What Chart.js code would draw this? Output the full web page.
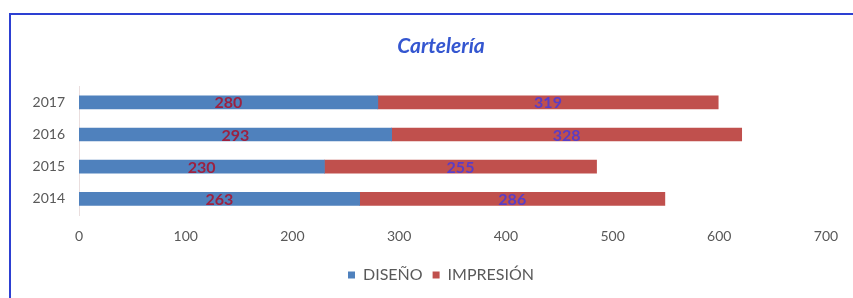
<!DOCTYPE html>
<html>
<head>
<meta charset="utf-8">
<script src="https://cdn.jsdelivr.net/npm/chart.js@4"></script>
<style>
  html, body { margin: 0; padding: 0; background: #fff; overflow: hidden; width: 853px; height: 298px; }
  #wrap {
    position: absolute; left: 9px; top: 13px;
    width: 880px; height: 300px;
    border-top: 2px solid #2d40d2; border-left: 2px solid #2d40d2;
  }
  canvas { position: absolute; left: 0; top: 0; }
</style>
</head>
<body>
<div id="wrap"><canvas id="chart" width="860" height="283"></canvas></div>
<script>
const years = ['2014', '2015', '2016', '2017'];
const diseno = [263, 230, 293, 280];
const impresion = [286, 255, 328, 319];
const xTicks = [0, 100, 200, 300, 400, 500, 600, 700];

// numbers drawn in the middle of each bar segment
const barLabels = {
    id: 'barLabels',
    afterDatasetsDraw(chart) {
        const ctx = chart.ctx;
        ctx.save();
        ctx.font = 'bold 16px Lato';
        ctx.textAlign = 'center';
        ctx.textBaseline = 'middle';
        chart.data.datasets.forEach((ds, i) => {
            const meta = chart.getDatasetMeta(i);
            ctx.fillStyle = ds.labelColor;
            meta.data.forEach((bar, j) => {
                const p = bar.getCenterPoint();
                ctx.fillText(ds.data[j], p.x, p.y + 1);
            });
        });
        ctx.restore();
    }
};

const ctx = document.getElementById('chart');

new Chart(ctx, {
    type: 'bar',
    data: {
        labels: years,
        datasets: [{
            label: 'DISEÑO',
            data: diseno,
            backgroundColor: '#4f81bd',
            labelColor: '#9c2140',
            barThickness: 13
        }, {
            label: 'IMPRESIÓN',
            data: impresion,
            backgroundColor: '#c0504d',
            labelColor: '#5a3dc6',
            barThickness: 13
        }]
    },
    options: {
        responsive: false,
        animation: false,
        indexAxis: 'y',
        layout: {
            padding: { left: 0, right: 0, top: 0, bottom: 5 }
        },
        plugins: {
            title: {
                display: true,
                text: 'Cartelería',
                color: '#3456d0',
                font: { family: 'Lato', size: 21, style: 'italic', weight: 'bold' },
                padding: { top: 19, bottom: 27 }
            },
            legend: {
                position: 'bottom',
                labels: {
                    color: '#595959',
                    font: { family: 'Lato', size: 16 },
                    boxWidth: 7,
                    boxHeight: 7,
                    padding: 10
                }
            },
            tooltip: { enabled: false }
        },
        scales: {
            x: {
                stacked: true,
                min: 0,
                max: 700,
                afterBuildTicks: (scale) => {
                    scale.ticks = xTicks.map(v => ({ value: v }));
                },
                afterFit: (scale) => {
                    scale.height = 42;
                    scale.paddingRight = 45;
                },
                grid: { display: false, drawTicks: false },
                border: { display: false },
                ticks: {
                    color: '#595959',
                    font: { family: 'Lato', size: 14 },
                    padding: 13
                }
            },
            y: {
                stacked: true,
                reverse: true,
                afterFit: (scale) => { scale.width = 68; },
                grid: { display: false, drawTicks: false },
                border: { display: true, color: '#eadede' },
                ticks: {
                    color: '#595959',
                    font: { family: 'Lato', size: 14 },
                    padding: 14
                }
            }
        }
    },
    plugins: [barLabels]
});
</script>
</body>
</html>
